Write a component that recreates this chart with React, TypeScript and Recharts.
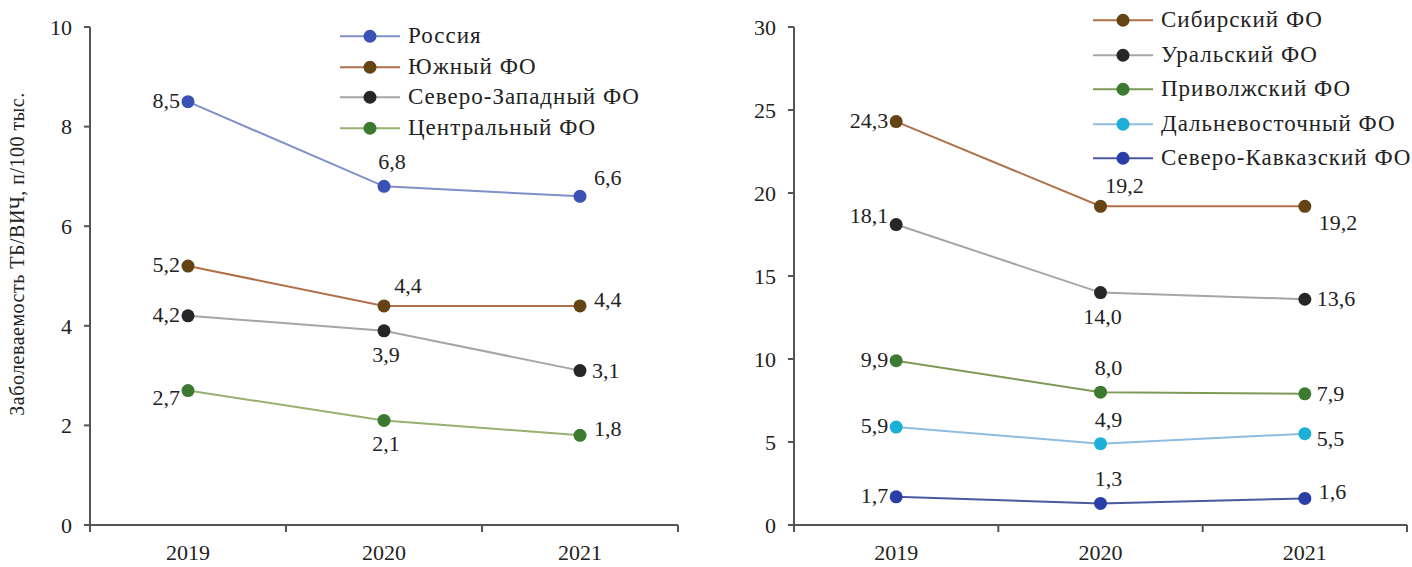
import React from 'react';
import { LineChart, Line, XAxis, YAxis, Legend, LabelList } from 'recharts';

const years = ['2019', '2020', '2021'];

// left panel
const russia = [8.5, 6.8, 6.6];
const southern = [5.2, 4.4, 4.4];
const northWestern = [4.2, 3.9, 3.1];
const central = [2.7, 2.1, 1.8];
const leftTicks = [0, 2, 4, 6, 8, 10];

// right panel
const siberian = [24.3, 19.2, 19.2];
const ural = [18.1, 14.0, 13.6];
const volga = [9.9, 8.0, 7.9];
const farEastern = [5.9, 4.9, 5.5];
const northCaucasian = [1.7, 1.3, 1.6];
const rightTicks = [0, 5, 10, 15, 20, 25, 30];

const SERIF = '"Liberation Serif", "Times New Roman", serif';
const AXIS = '#555';
const TEXT = '#222';

const leftData = years.map((year, i) => ({
  year,
  russia: russia[i],
  southern: southern[i],
  northWestern: northWestern[i],
  central: central[i],
}));

const rightData = years.map((year, i) => ({
  year,
  siberian: siberian[i],
  ural: ural[i],
  volga: volga[i],
  farEastern: farEastern[i],
  northCaucasian: northCaucasian[i],
}));

type Series = { key: string; name: string; line: string; dot: string; labels: string[] };

const leftSeries: Series[] = [
  { key: 'russia', name: 'Россия', line: '#8090c8', dot: '#3a52b4', labels: ['left', 'top', 'rightUp'] },
  { key: 'southern', name: 'Южный ФО', line: '#b0704a', dot: '#654414', labels: ['left', 'topR', 'rightUpS'] },
  { key: 'northWestern', name: 'Северо-Западный ФО', line: '#a6a6a6', dot: '#262626', labels: ['left', 'bottom', 'right'] },
  { key: 'central', name: 'Центральный ФО', line: '#98b070', dot: '#3c7a30', labels: ['leftDown', 'bottom', 'rightUpS'] },
];

const rightSeries: Series[] = [
  { key: 'siberian', name: 'Сибирский ФО', line: '#b0704a', dot: '#654414', labels: ['left', 'topR', 'rightDown'] },
  { key: 'ural', name: 'Уральский ФО', line: '#a6a6a6', dot: '#262626', labels: ['leftUp', 'bottom', 'right'] },
  { key: 'volga', name: 'Приволжский ФО', line: '#7e9a58', dot: '#3c7a30', labels: ['left', 'top', 'right'] },
  { key: 'farEastern', name: 'Дальневосточный ФО', line: '#90bce0', dot: '#1cb0d8', labels: ['left', 'top', 'rightDownS'] },
  { key: 'northCaucasian', name: 'Северо-Кавказский ФО', line: '#4a5aa0', dot: '#2a3ea8', labels: ['left', 'top', 'rightUpS'] },
];

const OFFSETS: Record<string, { dx: number; dy: number; anchor: 'start' | 'middle' | 'end' }> = {
  left: { dx: -8, dy: 6, anchor: 'end' },
  leftUp: { dx: -8, dy: -2, anchor: 'end' },
  leftDown: { dx: -8, dy: 14, anchor: 'end' },
  top: { dx: 8, dy: -17, anchor: 'middle' },
  topR: { dx: 24, dy: -13, anchor: 'middle' },
  bottom: { dx: 2, dy: 31, anchor: 'middle' },
  right: { dx: 12, dy: 7, anchor: 'start' },
  rightUp: { dx: 14, dy: -11, anchor: 'start' },
  rightUpS: { dx: 14, dy: 1, anchor: 'start' },
  rightDown: { dx: 14, dy: 24, anchor: 'start' },
  rightDownS: { dx: 12, dy: 12, anchor: 'start' },
};

const fmt = (v: number) => v.toFixed(1).replace('.', ',');

const makeLabel = (places: string[]) => (props: any) => {
  const { x, y, value, index } = props;
  const o = OFFSETS[places[index]] || OFFSETS.right;
  return (
    <text x={x + o.dx} y={y + o.dy} textAnchor={o.anchor} fontSize={22} fontFamily={SERIF} fill={TEXT}>
      {fmt(value)}
    </text>
  );
};

const makeTick = (band: number) => (props: any) => {
  const { x, y, payload, index } = props;
  return (
    <g>
      {index === 0 && <line x1={x - band / 2} x2={x - band / 2} y1={y} y2={y + 7} stroke={AXIS} strokeWidth={2} />}
      <line x1={x + band / 2} x2={x + band / 2} y1={y} y2={y + 7} stroke={AXIS} strokeWidth={2} />
      <text x={x} y={y + 35} textAnchor="middle" fontSize={22} fontFamily={SERIF} fill={TEXT}>
        {payload.value}
      </text>
    </g>
  );
};

const makeTitle = (title: string) => (props: any) => {
  const { viewBox } = props;
  const cy = viewBox.y + viewBox.height / 2 - 22;
  return (
    <text
      x={17}
      y={cy}
      transform={`rotate(-90, 17, ${cy})`}
      textAnchor="middle"
      dominantBaseline="central"
      fontSize={20}
      letterSpacing={0.5}
      fontFamily={SERIF}
      fill={TEXT}
    >
      {title}
    </text>
  );
};

const makeLegend = (series: Series[], rowH: number) => () => (
  <div style={{ fontFamily: SERIF, fontSize: 23, letterSpacing: 1, color: TEXT }}>
    {series.map((s) => (
      <div key={s.key} style={{ display: 'flex', alignItems: 'center', height: rowH }}>
        <svg width={68} height={rowH}>
          <line x1={0} x2={60} y1={rowH / 2} y2={rowH / 2} stroke={s.line} strokeWidth={2} />
          <circle cx={30} cy={rowH / 2} r={6.5} fill={s.dot} />
        </svg>
        <span style={{ whiteSpace: 'nowrap' }}>{s.name}</span>
      </div>
    ))}
  </div>
);

const Panel = ({ data, series, ticks, max, width, yWidth, marginRight, legendPos, rowH, title }: any) => {
  const band = (width - yWidth - marginRight) / years.length;
  return (
    <LineChart width={width} height={567} data={data} margin={{ top: 27, right: marginRight, bottom: 12, left: 0 }}>
      <XAxis
        dataKey="year"
        scale="band"
        axisLine={{ stroke: AXIS, strokeWidth: 2 }}
        tickLine={false}
        tickSize={0}
        tickMargin={0}
        height={30}
        tick={makeTick(band)}
        interval={0}
      />
      <YAxis
        type="number"
        domain={[0, max]}
        ticks={ticks}
        width={yWidth}
        axisLine={{ stroke: AXIS, strokeWidth: 2 }}
        tickLine={{ stroke: AXIS, strokeWidth: 2 }}
        tickSize={6}
        tickMargin={12}
        tick={{ fontSize: 22, fontFamily: SERIF, fill: TEXT }}
        label={title ? { content: makeTitle(title) } : undefined}
      />
      <Legend
        layout="vertical"
        align="center"
        verticalAlign="middle"
        content={makeLegend(series, rowH)}
        wrapperStyle={{ left: legendPos[0], top: legendPos[1], width: 'auto' }}
      />
      {series.map((s: Series) => (
        <Line
          key={s.key}
          dataKey={s.key}
          name={s.name}
          stroke={s.line}
          strokeWidth={2}
          dot={{ r: 6.5, fill: s.dot, stroke: s.dot, strokeWidth: 0 }}
          isAnimationActive={false}
        >
          <LabelList dataKey={s.key} content={makeLabel(s.labels)} />
        </Line>
      ))}
    </LineChart>
  );
};

export default function App() {
  return (
    <div style={{ position: 'absolute', left: 0, top: 0, width: 1412, height: 567, background: '#fff', display: 'flex' }}>
      <Panel
        data={leftData}
        series={leftSeries}
        ticks={leftTicks}
        max={10}
        width={700}
        yWidth={90}
        marginRight={22}
        legendPos={[340, 21]}
        rowH={30.5}
        title="Заболеваемость ТБ/ВИЧ, п/100 тыс."
      />
      <Panel
        data={rightData}
        series={rightSeries}
        ticks={rightTicks}
        max={30}
        width={712}
        yWidth={94}
        marginRight={5}
        legendPos={[393, 3]}
        rowH={34.5}
      />
    </div>
  );
}
